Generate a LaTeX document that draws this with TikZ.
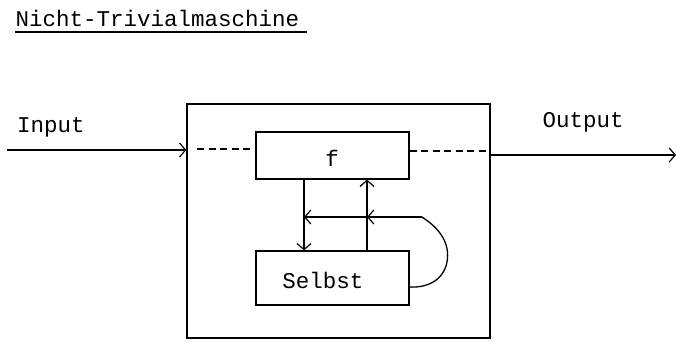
\documentclass[tikz,border=0pt]{standalone}
\usepackage{fontspec}
\setmonofont{Liberation Mono}
\usetikzlibrary{arrows.meta}
\begin{document}
\begin{tikzpicture}[x=1pt,y=-1pt,line width=1.3pt,
  lbl/.style={font=\ttfamily\fontsize{22.5}{24}\selectfont,inner sep=0pt},
  blk/.style={draw,minimum width=153pt,inner sep=0pt},
  tip/.style={-{Straight Barb[length=6pt,width=14pt,line width=1.2pt]}},
  dsh/.style={dash pattern=on 7pt off 4.5pt}]
\useasboundingbox (0,0) rectangle (677,340);
% title
\node[lbl,anchor=base west] (title) at (15,27) {Nicht-Trivialmaschine};
\coordinate (ul1) at (15,32);
\coordinate (ul2) at (307,32);
\draw[line width=1.1pt] (ul1) -- (ul2);
% boxes
\node[draw,minimum width=303pt,minimum height=234pt] (outer) at (338.5,221) {};
\node[blk,minimum height=47pt] (f) at (332.5,155.5) {};
\node[blk,minimum height=54pt] (selbst) at (332.5,278) {};
\node[lbl] (flbl) at (332,158) {f};
\node[lbl] (slbl) at (323,280) {Selbst};
% input / output
\node[lbl] (inlbl) at (51,127) {Input};
\node[lbl] (outlbl) at (583,122) {Output};
\coordinate (in) at (7,150);
\coordinate (out) at (676,155);
\draw[tip] (in) -- (outer.west |- in);
\draw[tip] (outer.east |- out) -- (out);
% dashed internal
\coordinate (dl) at (197,149);
\coordinate (dr) at (490,151);
\draw[dsh] (dl) -- (f.west |- dl);
\draw[dsh] (f.east |- dr) -- (dr);
% vertical arrows
\draw[tip] ([xshift=-28.5pt]f.south) -- ([xshift=-28.5pt]selbst.north);
\draw[tip] ([xshift=34.5pt]selbst.north) -- ([xshift=34.5pt]f.south);
% feedback
\coordinate (fb) at (422,217);
\coordinate (hj1) at (367,217);
\coordinate (hj2) at (304,217);
\coordinate (se) at (409,287);
\draw[tip] (fb) -- (hj1);
\draw[tip] (hj1) -- (hj2);
\draw (fb) .. controls (442,230) and (450,245) .. (447,262)
           .. controls (443,282) and (425,288) .. (se);
\end{tikzpicture}
\end{document}
